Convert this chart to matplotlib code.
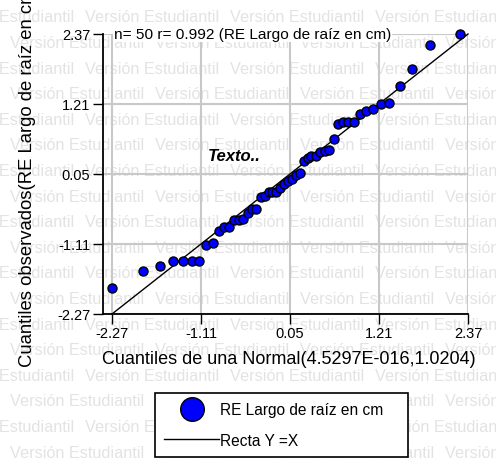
import matplotlib.pyplot as plt
from matplotlib.lines import Line2D

plt.rcParams['font.family'] = ['Liberation Sans', 'DejaVu Sans']

# cuantiles teóricos (eje x) y observados (eje y), n = 50
teoricos = [-2.27, -1.87, -1.64, -1.48, -1.34, -1.23, -1.13, -1.04, -0.96, -0.88,
            -0.81, -0.74, -0.68, -0.62, -0.56, -0.50, -0.44, -0.39, -0.33, -0.28,
            -0.23, -0.18, -0.13, -0.08, -0.03, 0.03, 0.08, 0.13, 0.18, 0.23,
            0.28, 0.33, 0.39, 0.44, 0.50, 0.56, 0.62, 0.68, 0.74, 0.81,
            0.88, 0.96, 1.04, 1.13, 1.23, 1.34, 1.48, 1.64, 1.87, 2.27]
observados = [-1.84, -1.55, -1.48, -1.39, -1.39, -1.39, -1.39, -1.12, -1.09, -0.89,
              -0.83, -0.82, -0.71, -0.71, -0.70, -0.60, -0.53, -0.53, -0.33, -0.32,
              -0.25, -0.25, -0.24, -0.18, -0.12, -0.06, -0.03, 0.03, 0.07, 0.27,
              0.31, 0.35, 0.35, 0.41, 0.43, 0.45, 0.63, 0.88, 0.92, 0.92,
              0.92, 1.04, 1.09, 1.13, 1.21, 1.22, 1.51, 1.79, 2.19, 2.37]
ticks = [-2.27, -1.11, 0.05, 1.21, 2.37]
recta = [-2.27, 2.37]

W, H = 496, 460
fig = plt.figure(figsize=(W / 100, H / 100), dpi=100)

# marca de agua de fondo
for k in range(19):
    yy = 18 + 25.6 * k
    x0 = -60 if k % 2 == 0 else 10
    for j in range(5):
        fig.text((x0 + 145 * j) / W, 1 - yy / H, 'Versión Estudiantil',
                 fontsize=11.7, color='#e3e3e3', va='center', ha='left', zorder=-5)

ax = fig.add_axes([103 / W, 1 - 315 / H, (468 - 103) / W, 280 / H])
ax.patch.set_visible(False)

ax.set_xlim(-2.27 - 9 / 76.7, 2.37)
ax.set_ylim(-2.27, 2.37)
ax.set_xticks(ticks)
ax.set_yticks(ticks)
ax.set_xticklabels([f'{t:.2f}' for t in ticks])
ax.set_yticklabels([f'{t:.2f}' for t in ticks])
ax.tick_params(labelsize=10.5, length=7, width=1, direction='out', pad=2)
ax.grid(True, color='#c8c8c8', linewidth=1.5)
ax.set_axisbelow(True)
for s in ['top', 'right']:
    ax.spines[s].set_visible(False)
for s in ['left', 'bottom']:
    ax.spines[s].set_linewidth(1.3)
    ax.spines[s].set_color('black')

ax.plot(recta, recta, color='black', linewidth=1, zorder=3, clip_on=False)
ax.plot(teoricos, observados, 'o', color='#0000ff', markeredgecolor='black',
        markeredgewidth=1, markersize=6.5, zorder=4, clip_on=False)

ax.text(-2.25, 2.37, 'n= 50 r= 0.992 (RE Largo de raíz en cm)', fontsize=11.1,
        ha='left', va='center', zorder=5,
        bbox=dict(facecolor='white', edgecolor='none', pad=0.5))
ax.text(-1.02, 0.35, 'Texto..', fontsize=12, fontweight='bold', fontstyle='italic',
        ha='left', va='center', zorder=5)

ax.set_xlabel('Cuantiles de una Normal(4.5297E-016,1.0204)', fontsize=13)
ax.xaxis.set_label_coords(0.51, -0.13)
ax.set_ylabel('Cuantiles observados(RE Largo de raíz en cm)', fontsize=13.3)
ax.yaxis.set_label_coords(-0.183, 0.5)

handles = [Line2D([], [], marker='o', linestyle='', markersize=17, markerfacecolor='#0000ff',
                  markeredgecolor='black', markeredgewidth=1),
           Line2D([], [], color='black', linewidth=1)]
leg = fig.legend(handles, ['RE Largo de raíz en cm', 'Recta Y =X'], loc='lower left',
                 bbox_to_anchor=(155 / W, 1 - 458 / H, 253 / W, 65 / H), mode='expand',
                 fontsize=11.2, frameon=True, fancybox=False, framealpha=1,
                 edgecolor='black', handlelength=3.5, handletextpad=0.05,
                 labelspacing=1.0, borderpad=0.6, borderaxespad=0)
leg.get_frame().set_linewidth(1.2)

plt.savefig('out.png', dpi=100)
